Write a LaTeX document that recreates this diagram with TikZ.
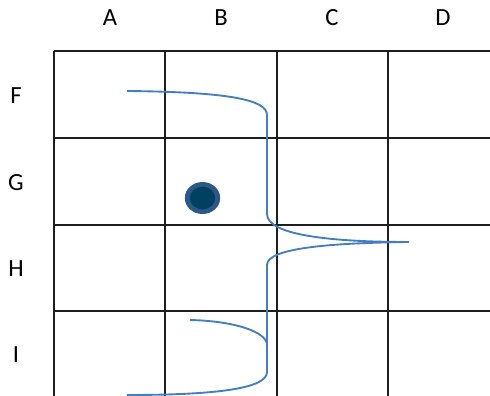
\documentclass[tikz,border=0pt]{standalone}
\usepackage{fontspec}
\setmainfont{Carlito}
\usetikzlibrary{shapes.geometric}
\usepackage{xcolor}
\definecolor{gridink}{RGB}{30,30,30}
\definecolor{pathblue}{RGB}{68,126,192}
\definecolor{dotrim}{RGB}{43,88,136}
\definecolor{dotcore}{RGB}{0,64,96}

\begin{document}
\begin{tikzpicture}[x=0.75pt, y=-0.75pt, font=\fontsize{18.5}{21}\selectfont,
    gridline/.style={gridink, line width=1.5pt},
    trace/.style={pathblue, line width=1.4pt},
    lbl/.style={inner sep=0pt, anchor=center}]
  \useasboundingbox (0,0) rectangle (490,396);
  % column and row labels
  \node[lbl] (colA) at (110,18) {A};
  \node[lbl] (colB) at (221,18) {B};
  \node[lbl] (colC) at (332,18) {C};
  \node[lbl] (colD) at (443,18) {D};
  \node[lbl] (rowF) at (16,96) {F};
  \node[lbl] (rowG) at (16,183) {G};
  \node[lbl] (rowH) at (16,269) {H};
  \node[lbl] (rowI) at (16,355) {I};
  % grid
  \foreach \x in {54,165,277,388}
    \draw[gridline] (\x,51) -- (\x,396);
  \foreach \y in {51,138,225,311}
    \draw[gridline] (54,\y) -- (490,\y);
  % marker in cell B/G
  \node[ellipse, fill=dotrim, minimum width=26.5pt, minimum height=24pt, inner sep=0pt] (dot) at (202.5,198) {};
  \node[ellipse, fill=dotcore, minimum width=19pt, minimum height=17pt, inner sep=0pt] (core) at (dot.center) {};
  % the traced line
  \draw[trace] (127,91) .. controls (230,92) and (267,100) .. (267,115)
    -- (267,214) .. controls (267,235) and (330,242) .. (409,242)
    .. controls (330,243) and (267,248) .. (267,265)
    -- (267,372) .. controls (267,388) and (220,395) .. (127,395);
  \draw[trace] (190,320) .. controls (235,321) and (267,332) .. (267,345);
\end{tikzpicture}
\end{document}
